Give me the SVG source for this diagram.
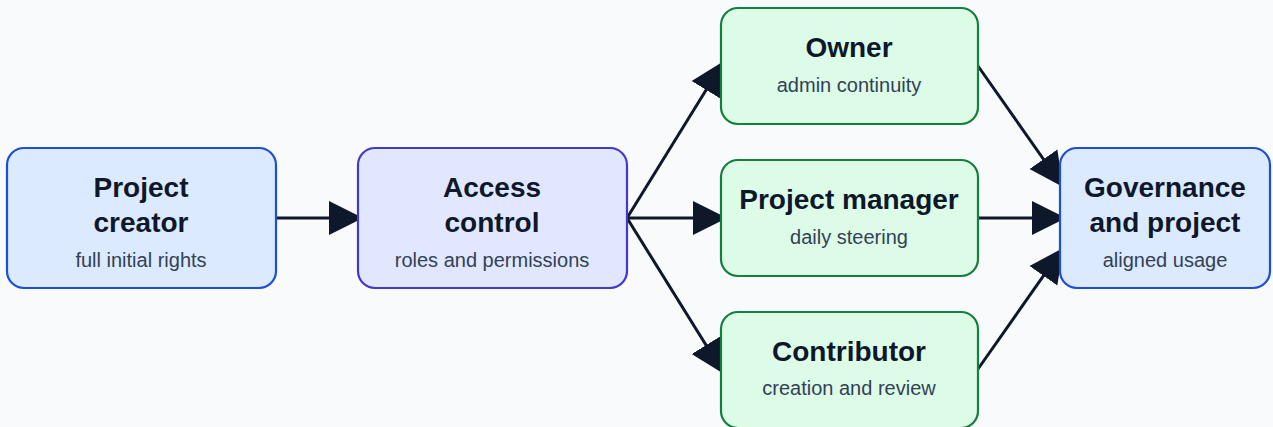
<svg xmlns="http://www.w3.org/2000/svg" width="1273" height="427" viewBox="0 0 1273 427">
  <style>
    .box { stroke-width: 2.2; }
    .blue { fill: #dbeafe; stroke: #1d4ed8; }
    .indigo { fill: #e0e7ff; stroke: #4338ca; }
    .green { fill: #dcfce7; stroke: #15803d; }
    .title { font-family: "Liberation Sans", Arial, sans-serif; font-weight: bold; font-size: 28px; fill: #0f172a; text-anchor: middle; }
    .sub { font-family: "Liberation Sans", Arial, sans-serif; font-size: 20px; fill: #334155; text-anchor: middle; }
    .edge { stroke: #0f172a; stroke-width: 3; fill: none; marker-end: url(#arrow); }
  </style>
  <defs>
    <marker id="arrow" markerUnits="userSpaceOnUse" markerWidth="36" markerHeight="36" viewBox="0 0 36 36" refX="34" refY="18" orient="auto">
      <path d="M0,1 L34,18 L0,35 z" fill="#0f172a"/>
    </marker>
  </defs>
  <rect width="1273" height="427" fill="#f8fafc"/>

  <g id="connectors">
    <line class="edge" x1="276" y1="218" x2="363" y2="218"/>
    <line class="edge" x1="627" y1="218" x2="724" y2="61"/>
    <line class="edge" x1="627" y1="218" x2="727" y2="218"/>
    <line class="edge" x1="627" y1="218" x2="724" y2="374"/>
    <line class="edge" x1="978" y1="66" x2="1063" y2="187"/>
    <line class="edge" x1="978" y1="218" x2="1066" y2="218"/>
    <line class="edge" x1="978" y1="369" x2="1063" y2="248"/>
  </g>

  <g id="project-creator">
    <rect class="box blue" x="7" y="148" width="269" height="140" rx="17"/>
    <text class="title" x="141" y="197">Project</text>
    <text class="title" x="141" y="232">creator</text>
    <text class="sub" x="141" y="267">full initial rights</text>
  </g>

  <g id="access-control">
    <rect class="box indigo" x="358" y="148" width="269" height="140" rx="17"/>
    <text class="title" x="492" y="197">Access</text>
    <text class="title" x="492" y="232">control</text>
    <text class="sub" x="492" y="267">roles and permissions</text>
  </g>

  <g id="owner">
    <rect class="box green" x="721" y="8" width="257" height="116" rx="17"/>
    <text class="title" x="849" y="57">Owner</text>
    <text class="sub" x="849" y="92">admin continuity</text>
  </g>

  <g id="project-manager">
    <rect class="box green" x="721" y="160" width="257" height="116" rx="17"/>
    <text class="title" x="849" y="209">Project manager</text>
    <text class="sub" x="849" y="244">daily steering</text>
  </g>

  <g id="contributor">
    <rect class="box green" x="721" y="312" width="257" height="116" rx="17"/>
    <text class="title" x="849" y="361">Contributor</text>
    <text class="sub" x="849" y="395">creation and review</text>
  </g>

  <g id="governance">
    <rect class="box blue" x="1060" y="148" width="210" height="140" rx="17"/>
    <text class="title" x="1165" y="197">Governance</text>
    <text class="title" x="1165" y="232">and project</text>
    <text class="sub" x="1165" y="267">aligned usage</text>
  </g>
</svg>
